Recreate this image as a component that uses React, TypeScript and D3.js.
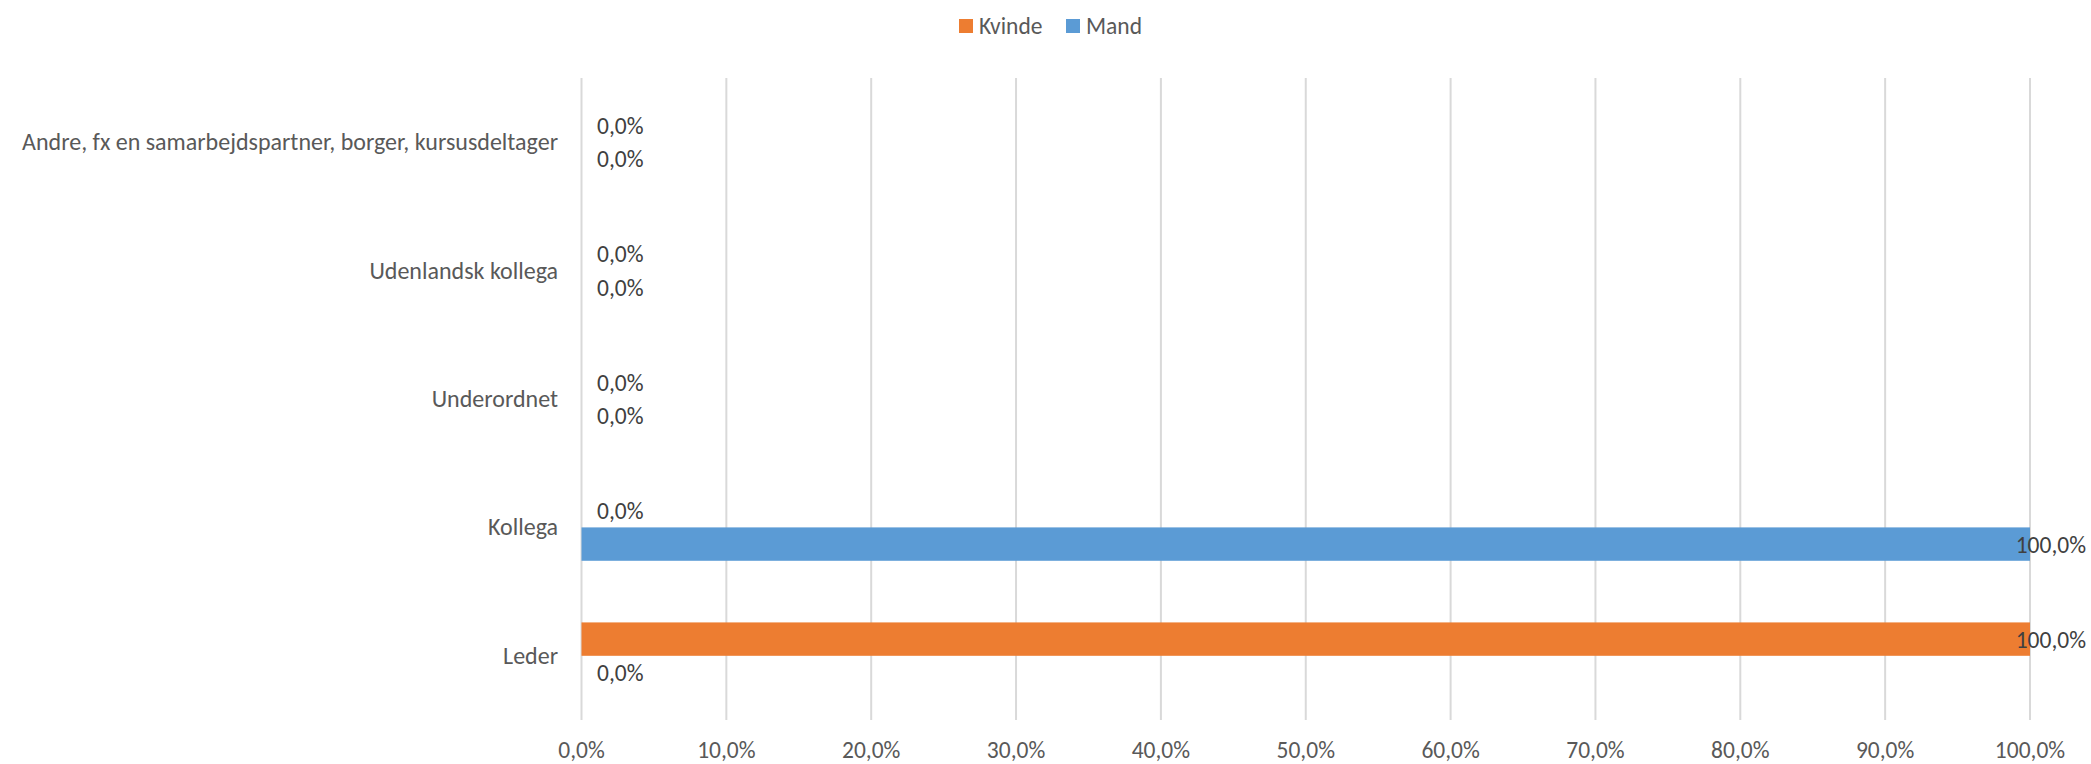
import React, { useEffect, useRef } from "react";
import * as d3 from "d3";

const categories = [
  "Leder",
  "Kollega",
  "Underordnet",
  "Udenlandsk kollega",
  "Andre, fx en samarbejdspartner, borger, kursusdeltager",
];
const seriesNames = ["Kvinde", "Mand"];
const kvindeValues = [1, 0, 0, 0, 0];
const mandValues = [0, 1, 0, 0, 0];
const seriesColors = ["#ED7D31", "#5B9BD5"];
const xTicks = [0, 0.1, 0.2, 0.3, 0.4, 0.5, 0.6, 0.7, 0.8, 0.9, 1];

const W = 2091;
const H = 764;
const FONT = "Carlito, Calibri, Lato, sans-serif";
const FS = 23.5;
const FS_CAT = 24;
const TXT = "#595959";

export default function App() {
  const ref = useRef<SVGSVGElement>(null);

  useEffect(() => {
    const svg = d3.select(ref.current);
    svg.selectAll("*").remove();

    const locale = d3.formatLocale({
      decimal: ",",
      thousands: ".",
      grouping: [3],
      currency: ["", " kr"],
    });
    const fmt = locale.format(".1%");

    const x = d3.scaleLinear().domain([0, 1]).range([581.5, 2030]);
    const y = d3
      .scaleBand<string>()
      .domain([...categories].reverse())
      .range([78, 720])
      .paddingInner(0.48)
      .paddingOuter(0.24);
    const ySub = d3
      .scaleBand<string>()
      .domain(seriesNames)
      .range([0, y.bandwidth()]);

    // gridlines
    svg
      .append("g")
      .selectAll("line")
      .data(xTicks)
      .join("line")
      .attr("x1", (d) => x(d))
      .attr("x2", (d) => x(d))
      .attr("y1", 78)
      .attr("y2", 720)
      .attr("stroke", "#d9d9d9")
      .attr("stroke-width", 2);

    // tick labels
    svg
      .append("g")
      .selectAll("text")
      .data(xTicks)
      .join("text")
      .attr("x", (d) => x(d))
      .attr("y", 758)
      .attr("text-anchor", "middle")
      .attr("font-family", FONT)
      .attr("font-size", FS)
      .attr("fill", TXT)
      .text((d) => fmt(d));

    // category labels
    svg
      .append("g")
      .selectAll("text")
      .data(categories)
      .join("text")
      .attr("x", 558)
      .attr("y", (d) => (y(d) as number) + y.bandwidth() / 2 + 8)
      .attr("text-anchor", "end")
      .attr("font-family", FONT)
      .attr("font-size", FS_CAT)
      .attr("fill", TXT)
      .text((d) => d);

    const allSeries = [kvindeValues, mandValues];
    allSeries.forEach((vals, si) => {
      const name = seriesNames[si];
      const rows = categories.map((c, i) => ({ c, v: vals[i] }));
      const g = svg.append("g");
      g.selectAll("rect")
        .data(rows)
        .join("rect")
        .attr("x", x(0))
        .attr("y", (d) => (y(d.c) as number) + (ySub(name) as number))
        .attr("width", (d) => x(d.v) - x(0))
        .attr("height", ySub.bandwidth())
        .attr("fill", seriesColors[si]);

      const labels = g
        .selectAll("text")
        .data(rows)
        .join("text")
        .attr("x", (d) => x(d.v) + 15.5)
        .attr(
          "y",
          (d) => (y(d.c) as number) + (ySub(name) as number) + ySub.bandwidth() / 2 + 8.5
        )
        .attr("text-anchor", "start")
        .attr("font-family", FONT)
        .attr("font-size", FS)
        .attr("fill", "#404040")
        .text((d) => fmt(d.v));
      labels.each(function () {
        const el = this as SVGTextElement;
        const w = el.getComputedTextLength();
        const sx = +el.getAttribute("x")!;
        if (sx + w > W - 5) {
          d3.select(el).attr("x", W - 5).attr("text-anchor", "end");
        }
      });
    });

    // legend
    const legend = svg.append("g");
    const legendItems = [
      { name: seriesNames[0], color: seriesColors[0], sx: 959 },
      { name: seriesNames[1], color: seriesColors[1], sx: 1066 },
    ];
    legendItems.forEach((it) => {
      legend
        .append("rect")
        .attr("x", it.sx)
        .attr("y", 19)
        .attr("width", 14)
        .attr("height", 14)
        .attr("fill", it.color);
      legend
        .append("text")
        .attr("x", it.sx + 20)
        .attr("y", 34)
        .attr("font-family", FONT)
        .attr("font-size", FS)
        .attr("fill", TXT)
        .text(it.name);
    });
  }, []);

  return (
    <svg
      ref={ref}
      width={W}
      height={H}
      style={{ position: "absolute", left: 0, top: 0, background: "#fff" }}
    />
  );
}
